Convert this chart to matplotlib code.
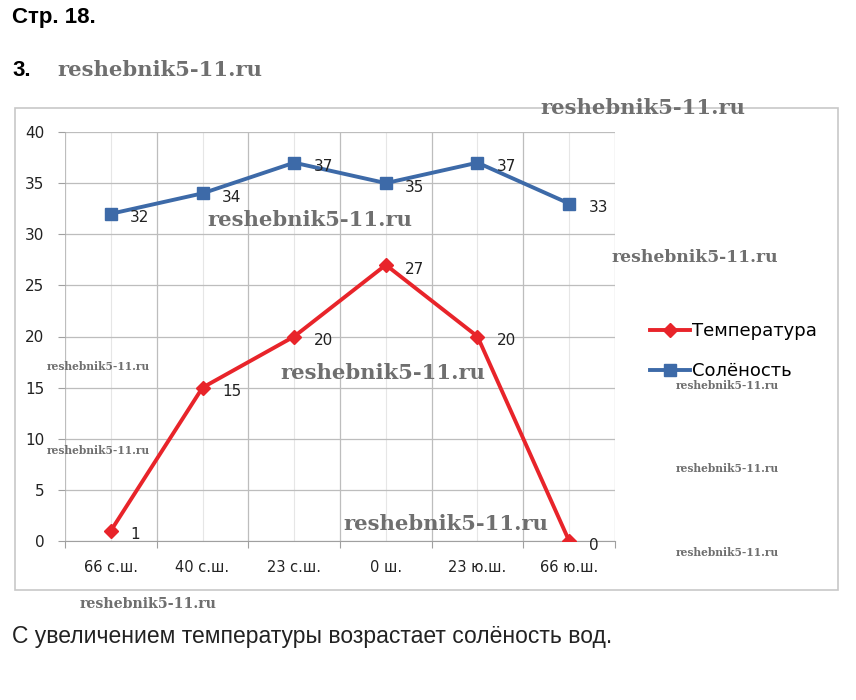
import matplotlib.pyplot as plt
from matplotlib.patches import Rectangle
from matplotlib.ticker import FixedLocator

categories = ["66 с.ш.", "40 с.ш.", "23 с.ш.", "0 ш.", "23 ю.ш.", "66 ю.ш."]
temperature = [1, 15, 20, 27, 20, 0]
salinity = [32, 34, 37, 35, 37, 33]
y_ticks = [0, 5, 10, 15, 20, 25, 30, 35, 40]

RED = "#e8242a"
BLUE = "#3d6aa8"
W, H = 856, 700


def px(x, y):
    # pixel coords (top-left origin) -> figure fraction
    return x / W, 1 - y / H


fig = plt.figure(figsize=(W / 100, H / 100), dpi=100)

# chart frame
x0, y0 = px(15, 590)
fig.patches.append(Rectangle((x0, y0), 823 / W, 482 / H, transform=fig.transFigure,
                             fill=False, edgecolor="#c8c8c8", linewidth=1.2))

ax = fig.add_axes([65 / W, 1 - 541 / H, 550 / W, 409 / H])
xs = list(range(len(categories)))

ax.plot(xs, salinity, color=BLUE, linewidth=2.8, marker="s", markersize=9,
        label="Солёность", zorder=3)
ax.plot(xs, temperature, color=RED, linewidth=2.8, marker="D", markersize=7.5,
        label="Температура", zorder=4)

for x, v in zip(xs, salinity):
    ax.annotate(str(v), (x, v), xytext=(14, -3), textcoords="offset points",
                ha="left", va="center", fontsize=11, color="#222222")
for x, v in zip(xs, temperature):
    ax.annotate(str(v), (x, v), xytext=(14, -3), textcoords="offset points",
                ha="left", va="center", fontsize=11, color="#222222")

ax.set_xlim(-0.5, len(categories) - 0.5)
ax.set_ylim(0, 40)
ax.set_yticks(y_ticks)
ax.xaxis.set_major_locator(FixedLocator([i - 0.5 for i in range(len(categories) + 1)]))
ax.xaxis.set_minor_locator(FixedLocator(xs))
ax.set_xticklabels([], minor=False)
ax.set_xticklabels(categories, minor=True)

ax.tick_params(axis="x", which="major", length=5, color="#a0a0a0")
ax.tick_params(axis="x", which="minor", length=0, pad=14, labelsize=10.5,
               labelcolor="#222222")
ax.tick_params(axis="y", length=5, color="#a0a0a0", pad=10, labelsize=11,
               labelcolor="#222222")

ax.grid(True, which="major", color="#bdbdbd", linewidth=0.9)
ax.grid(True, which="minor", axis="x", color="#e6e6e6", linewidth=0.8)
ax.set_axisbelow(True)
for side in ["top", "right", "left"]:
    ax.spines[side].set_visible(False)
ax.spines["bottom"].set_color("#a0a0a0")

handles, labels = ax.get_legend_handles_labels()
fig.legend(handles[::-1], labels[::-1], loc="upper left",
           bbox_to_anchor=px(634, 306), frameon=False, fontsize=13,
           handlelength=2.2, handletextpad=0.1, labelspacing=1.2)

# page text
fig.text(*px(12, 18), "Стр. 18.", fontsize=16, fontweight="bold",
         family="Liberation Sans", va="center", ha="left")
fig.text(*px(12, 70), "3.", fontsize=16, fontweight="bold",
         family="Liberation Sans", va="center", ha="left")
fig.text(*px(12, 637), "С увеличением температуры возрастает солёность вод.",
         fontsize=16.5, family="Liberation Sans", va="center", ha="left",
         color="#222222")

# watermarks: (x_left, y_center, fontsize)
marks = [(57, 70, 15.2), (540, 108, 15.2), (207, 220, 15.2), (612, 257, 12.3),
         (47, 366, 7.7), (280, 373, 15.2), (676, 386, 7.7), (47, 450, 7.7),
         (676, 469, 7.7), (343, 524, 15.2), (676, 553, 7.7), (80, 604, 10.2)]
for mx, my, ms in marks:
    fig.text(*px(mx, my), "reshebnik5-11.ru", fontsize=ms, fontweight="bold",
             family="DejaVu Serif", color="#6f6f6f", va="center", ha="left",
             zorder=10)

fig.savefig("out.png", dpi=100)
